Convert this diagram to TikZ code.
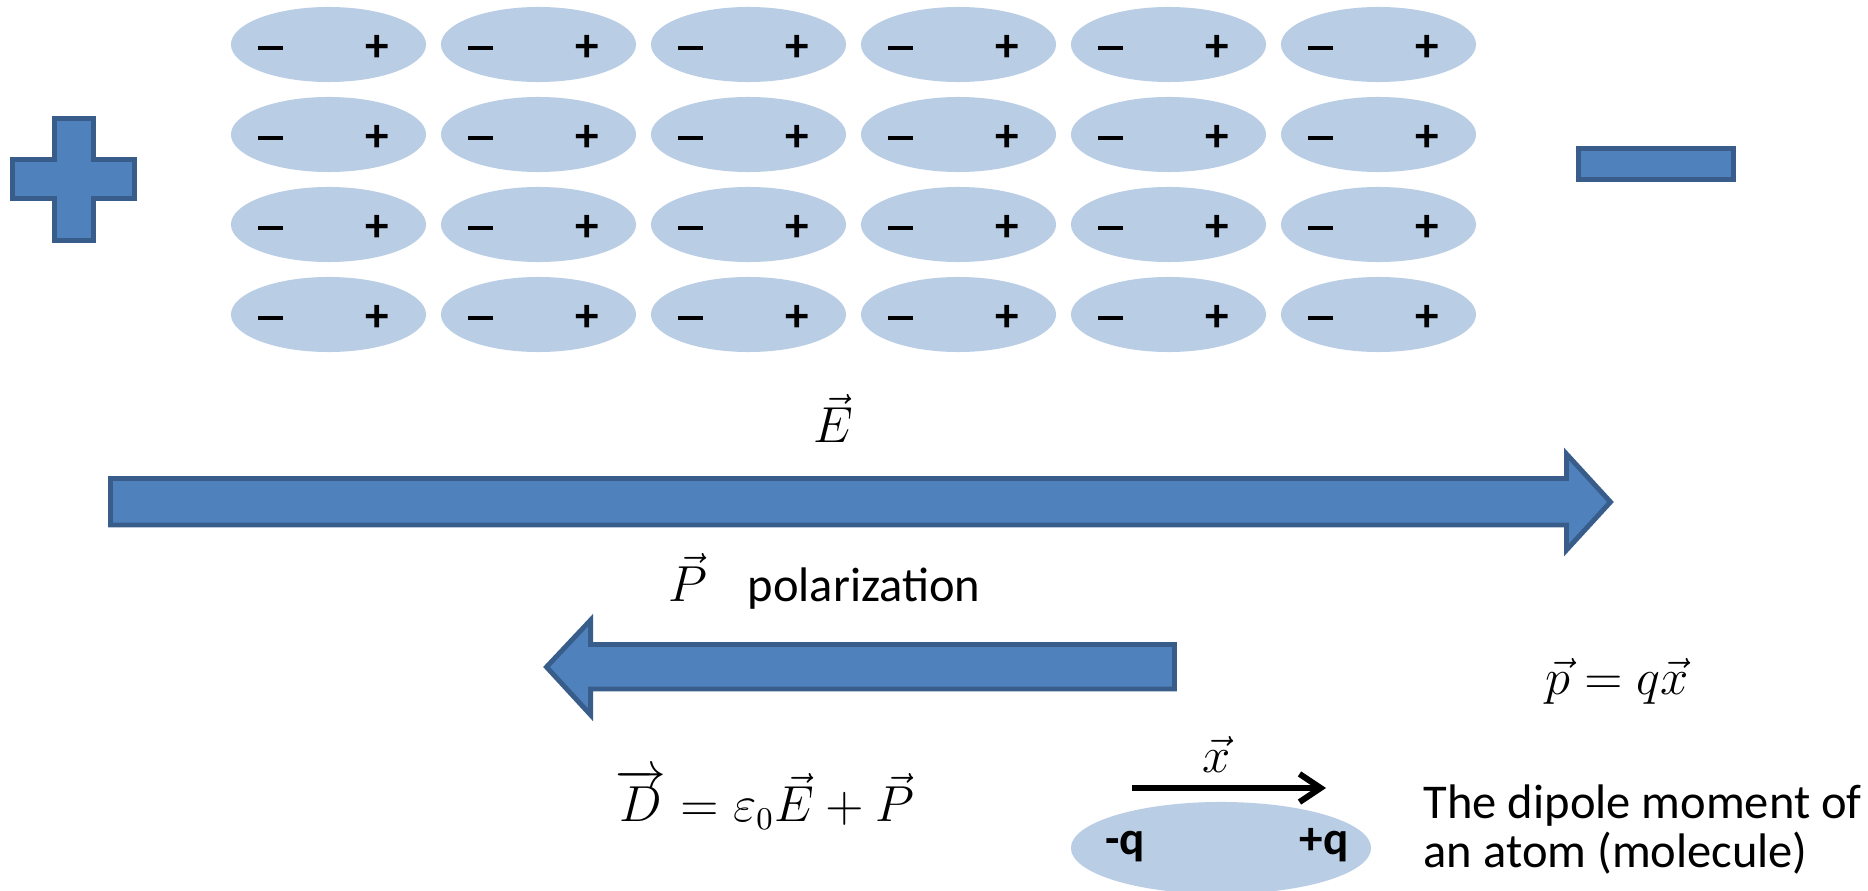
\documentclass[tikz,border=0pt]{standalone}
\usepackage{amssymb, amsmath}
\usepackage{fontspec}
\setmainfont{Carlito}
\usepackage{tikz}
\usetikzlibrary{shapes, arrows.meta}
\definecolor{light}{RGB}{185, 205, 229}
\definecolor{mid}{RGB}{79, 129, 189}
\definecolor{dark}{RGB}{56, 93, 138}
\newcommand*{\fs}{\fontsize{13.4}{16}\selectfont}
\newcommand*{\negsign}{\rule{7pt}{1.3pt}}

\begin{document}
\begin{tikzpicture}[
   x=0.01cm, y=-0.01cm,
   font=\fs,
   atom/.style={ellipse, fill=light, inner sep=0, minimum width=1.95cm, minimum height=0.75cm},
   bigatom/.style={ellipse, fill=light, inner sep=0, minimum width=3cm, minimum height=0.92cm},
   charge/.style={font=\fs\bfseries, inner sep=0},
   plate/.style={draw=dark, fill=mid, line width=1.4pt, line join=miter},
   mathlbl/.style={anchor=base, inner sep=0},
   txt/.style={anchor=base west, inner sep=0, font=\fontsize{13.8}{16}\selectfont}
  ]

  \useasboundingbox (0, 0) rectangle (1868, 891);

  % Atom Spacing
  \pgfmathsetmacro{\dx}{210}
  \pgfmathsetmacro{\dy}{90}

  % atoms in the field
  \foreach \c in {0,...,5} {
    \foreach \r in {0,...,3} {
      \node (a\c\r) at (328.5 + \c * \dx, 44.5 + \r * \dy) [atom] {};
      \node (m\c\r) at (270.5 + \c * \dx, 48 + \r * \dy) [charge] {\negsign};
      \node (p\c\r) at (377.5 + \c * \dx, 48.5 + \r * \dy) [charge] {+};
    }
  }

  % plates
  \draw[plate] (12.5, 159.5) -- (54.5, 159.5) -- (54.5, 118.5) -- (93.5, 118.5)
    -- (93.5, 159.5) -- (134.5, 159.5) -- (134.5, 198.5) -- (93.5, 198.5)
    -- (93.5, 240.5) -- (54.5, 240.5) -- (54.5, 198.5) -- (12.5, 198.5) -- cycle;
  \node (neg) at (1656, 164) [plate, rectangle, inner sep=0,
                              minimum width=1.55cm, minimum height=0.31cm] {};

  % field and polarization
  \draw[plate] (110.5, 478.5) -- (1566.5, 478.5) -- (1566.5, 454) -- (1610.5, 502)
    -- (1566.5, 550) -- (1566.5, 525) -- (110.5, 525) -- cycle;
  \node (E) at (833, 443) [mathlbl] {$\vec{E}$};

  \draw[plate] (1174.5, 644.5) -- (590.7, 644.5) -- (590.7, 620) -- (546.5, 667)
    -- (590.7, 715) -- (590.7, 689) -- (1174.5, 689) -- cycle;
  \node (P) at (688, 602) [mathlbl] {$\vec{P}$};
  \node (pol) at (747, 602) [txt] {polarization};

  \node (pqx) at (1617, 695) [mathlbl] {$\vec{p} = q\vec{x}$};
  \node (D) at (765, 822) [mathlbl] {$\overrightarrow{D} = \varepsilon_0\vec{E} + \vec{P}$};

  % single dipole
  \node (dip) at (1221, 848) [bigatom] {};
  \node (mq) at (1125, 855) [charge, anchor=base] {-q};
  \node (pq) at (1324, 855) [charge, anchor=base] {+q};
  \coordinate (xs) at (1132, 788);
  \coordinate (xe) at (1326, 788);
  \draw[->, >={Straight Barb[length=6pt, width=8pt]}, line width=1.7pt] (xs) -- (xe);
  \node (xl) at (1217, 773) [mathlbl] {$\vec{x}$};

  \node (t1) at (1423, 819) [txt] {The dipole moment of};
  \node (t2) at (1423, 867) [txt] {an atom (molecule)};

\end{tikzpicture}
\end{document}
